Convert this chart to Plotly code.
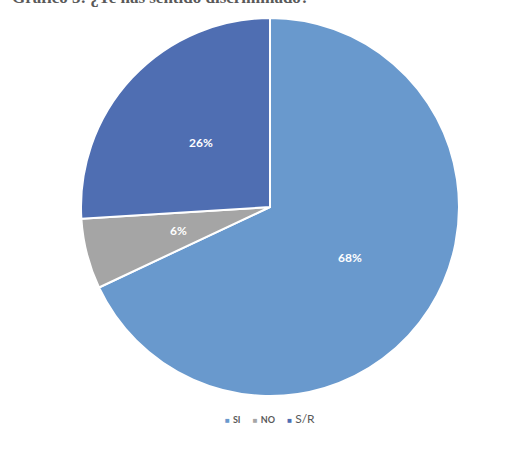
import math
import plotly.graph_objects as go

labels = ["SI", "NO", "S/R"]
values = [68, 6, 26]
colors = ["#6999cd", "#a5a5a5", "#4f6eb2"]
title_text = "Gráfico 5: ¿Te has sentido discriminado?"

W, H = 518, 450

dom_x = [81 / W, 459 / W]
dom_y = [1 - 396 / H, 1 - 18 / H]

fig = go.Figure(go.Pie(
    labels=labels,
    values=values,
    sort=False,
    direction="clockwise",
    rotation=0,
    marker=dict(colors=colors, line=dict(color="white", width=2)),
    textinfo="none",
    hoverinfo="label+percent",
    domain=dict(x=dom_x, y=dom_y),
))

# percentage labels placed at half radius along each slice's mid-angle
cx = (dom_x[0] + dom_x[1]) / 2 * W
cy = (dom_y[0] + dom_y[1]) / 2 * H
R = (dom_x[1] - dom_x[0]) / 2 * W
total = sum(values)
annotations = []
cum = 0
for v in values:
    mid = (cum + v / 2) / total * 2 * math.pi
    cum += v
    px = cx + 0.5 * R * math.sin(mid)
    py = cy + 0.5 * R * math.cos(mid)
    annotations.append(dict(text="<b>%d%%</b>" % round(v / total * 100), xref="paper", yref="paper",
                            x=px / W, y=py / H, xanchor="center", yanchor="middle", showarrow=False,
                            font=dict(family="Lato", size=12, color="white")))

# legend drawn as a text line
legend_parts = []
for lab, col in zip(labels, colors):
    if lab in ("SI", "NO"):
        txt = "<span style='font-size:9px'><b>%s</b></span>" % lab
    else:
        txt = "<span style='font-size:12px'>%s</span>" % lab
    legend_parts.append("<span style='color:%s;font-size:8px'>■</span> %s" % (col, txt))
annotations.append(dict(text="&nbsp;&nbsp;&nbsp;&nbsp;".join(legend_parts), xref="paper", yref="paper",
                        x=270 / W, y=1 - 418 / H, xanchor="center", yanchor="middle",
                        showarrow=False, font=dict(family="Lato", size=12, color="#595959")))

annotations.append(dict(text="<b>" + title_text + "</b>", xref="paper", yref="paper",
                        x=10 / W, y=1 + 2 / H, xanchor="left", yanchor="middle", showarrow=False,
                        font=dict(family="Liberation Serif", size=17, color="#595959")))

fig.update_layout(
    width=W, height=H,
    margin=dict(l=0, r=0, t=0, b=0),
    paper_bgcolor="white",
    showlegend=False,
    annotations=annotations,
)

fig.write_html("out.html", config={"displayModeBar": False},
               post_script="document.body.style.margin='0';")
